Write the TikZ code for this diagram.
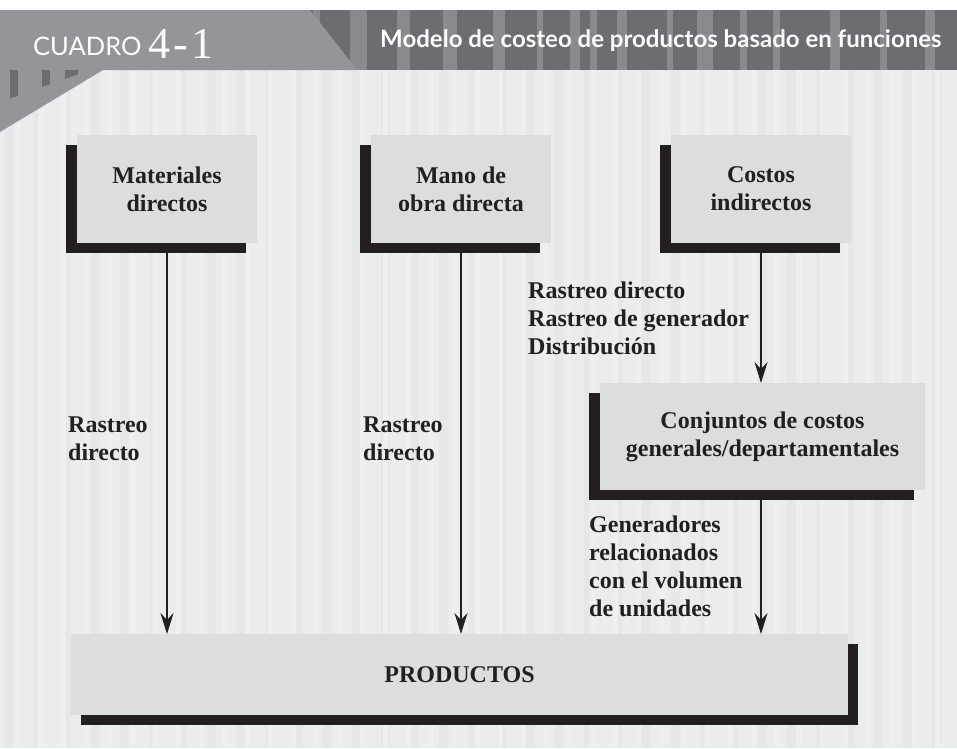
\documentclass[tikz,border=0pt]{standalone}
\usepackage{fontspec}
\setmainfont{Liberation Serif}
\newfontfamily\headfont{Lato}
\usepackage{tikz}
\usetikzlibrary{positioning,arrows.meta,shadows}

\definecolor{paper}{HTML}{EBECEE}
\definecolor{stripedark}{HTML}{E6E7E8}
\definecolor{stripelight}{HTML}{EEEFF0}
\definecolor{headdark}{HTML}{6C6D70}
\definecolor{headlight}{HTML}{898A8D}
\definecolor{tabgray}{HTML}{939598}
\definecolor{boxgray}{HTML}{DCDDDF}
\definecolor{ink}{HTML}{231F20}

\begin{document}
\begin{tikzpicture}[x=1pt, y=-1pt,
  every node/.style={font=\bfseries\fontsize{24}{28}\selectfont, text=ink},
  costbox/.style={fill=boxgray, inner sep=0pt, outer sep=0pt, align=center,
                  minimum width=180pt, minimum height=108pt,
                  drop shadow={shadow xshift=#1, shadow yshift=-10pt,
                               fill=ink, opacity=1}},
  costbox/.default=-11pt,
  lbl/.style={align=left, anchor=west, inner sep=0pt},
  arr/.style={draw=ink, line width=2pt,
              -{Stealth[length=21pt, width=13pt, inset=7pt]}}
]
\useasboundingbox (0,0) rectangle (957,748);

%% --- Background paper with stripes ----------------------------
\fill[white] (0,0) rectangle (957,748);
\fill[paper] (0,70) rectangle (957,748);
\foreach \i in {0,...,33}
  \fill[stripedark] (\i*29+4,70) rectangle +(9,678);
\foreach \i in {0,...,41}
  \fill[stripelight] (\i*23+15,70) rectangle +(5,678);

%% --- Header band -----------------------------------------------
\fill[headdark] (0,10) rectangle (957,70);
\foreach \sx/\sw in {313/7,350/17,397/13,443/14,493/12,537/6,570/10,
                     590/7,617/10,667/6,697/16,740/7,773/7,830/10,
                     880/7,925/10}
  \fill[headlight] (\sx,10) rectangle +(\sw,60);
\fill[tabgray] (0,10) -- (310,10) -- (357,70) -- (0,70) -- cycle;
\fill[tabgray] (0,70) -- (103,70) -- (0,132) -- cycle;
\begin{scope}
  \clip (0,70) -- (90,70) -- (0,102) -- cycle;
  \foreach \sx/\sw in {10/8,42/8,65/13}
    \fill[headdark] (\sx,70) rectangle +(\sw,40);
\end{scope}

\node[anchor=base west, inner sep=0pt, text=white,
      font=\headfont\fontsize{25.5}{30}\selectfont] (tabword) at (33,55) {CUADRO};
\node[anchor=base west, inner sep=0pt, text=white,
      font=\fontsize{44}{46}\selectfont] (tabnum) at (148,58)
     {4\kern3pt-\kern4pt1};
\node[anchor=base west, inner sep=0pt, text=white,
      font=\headfont\bfseries\fontsize{24}{26}\selectfont] (title) at (380,47)
     {Modelo de costeo de productos basado en funciones};

%% --- Cost boxes ------------------------------------------------
\node[costbox] (mat)  at (167,189) {Materiales\\directos};
\node[costbox] (mano) at (461,189) {Mano de\\obra directa};
\node[costbox] (cind) at (761,189) {Costos\\indirectos};
\node[costbox, minimum width=325pt, minimum height=107pt] (conj)
     at (762.5,436.5) {Conjuntos de costos\\generales/departamentales};
\node[costbox=10pt, minimum width=777pt, minimum height=81pt] (prod)
     at (459.5,674.5) {PRODUCTOS};

%% --- Arrows ----------------------------------------------------
\draw[arr] (mat.south)  -- (mat.south |- prod.north);
\draw[arr] (mano.south) -- (mano.south |- prod.north);
\draw[arr] (cind.south) -- (cind.south |- conj.north);
\draw[arr] (conj.south -| cind.south) -- (cind.south |- prod.north);

%% --- Arrow labels ----------------------------------------------
\node[lbl] (lblmat)  at (68,439)  {Rastreo\\directo};
\node[lbl] (lblmano) at (363,439) {Rastreo\\directo};
\node[lbl] (lblcind) at (528,318)
     {Rastreo directo\\Rastreo de generador\\Distribución};
\node[lbl] (lblconj) at (589,566)
     {Generadores\\relacionados\\con el volumen\\de unidades};

\end{tikzpicture}
\end{document}
